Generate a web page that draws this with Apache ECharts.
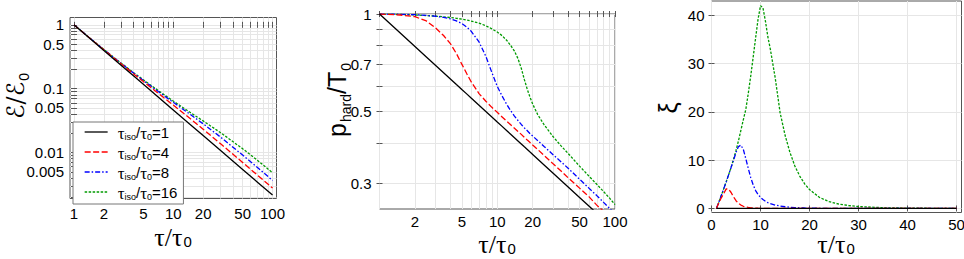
<!DOCTYPE html>
<html><head><meta charset="utf-8">
<script src="https://cdn.jsdelivr.net/npm/echarts@6/dist/echarts.min.js"></script>
<style>html,body{margin:0;padding:0;background:#fff}#c{width:964px;height:259px}</style>
</head><body><div id="c"></div>
<script>
// ---------- data ----------
const seriesNames = ['τiso/τ0=1', 'τiso/τ0=4', 'τiso/τ0=8', 'τiso/τ0=16'];

// left panel: energy density ε/ε0 vs τ/τ0 (log-log)
const tauEps = [1, 1.5, 2, 3, 4, 5, 6, 8, 10, 15, 20, 30, 50, 70, 100];
const eps1  = [1, 0.5824, 0.3969, 0.2311, 0.1575, 0.1169, 0.0917, 0.0625, 0.0464, 0.02703, 0.01842, 0.01073, 0.005429, 0.003466, 0.002154];
const eps4  = [1, 0.5878, 0.4061, 0.2431, 0.1699, 0.1291, 0.1036, 0.07275, 0.05541, 0.03341, 0.02319, 0.01369, 0.006980, 0.004467, 0.002776];
const eps8  = [1, 0.5891, 0.4089, 0.2477, 0.1747, 0.1343, 0.1088, 0.07833, 0.06118, 0.03907, 0.02820, 0.01740, 0.009114, 0.005873, 0.003658];
const eps16 = [1, 0.5891, 0.4108, 0.2500, 0.1780, 0.1374, 0.1120, 0.08145, 0.06407, 0.04187, 0.03128, 0.02044, 0.01147, 0.007618, 0.004824];
const epsTickValues = [1, 0.5, 0.1, 0.05, 0.01, 0.005];
const epsTickLabels = ['1', '0.5', '0.1', '0.05', '0.01', '0.005'];
const epsGridValues = [0.002,0.003,0.004,0.005,0.006,0.007,0.008,0.009,0.01,0.02,0.03,0.04,0.05,0.06,0.07,0.08,0.09,0.1,0.2,0.3,0.4,0.5,0.6,0.7,0.8,0.9,1];
const tauLogTickValues = [1, 2, 5, 10, 20, 50, 100];
const tauLogTickLabels = ['1', '2', '5', '10', '20', '50', '100'];
const tauLogGridValues = [1,2,3,4,5,6,7,8,9,10,20,30,40,50,60,70,80,90,100];

// middle panel: p_hard/T0 vs τ/τ0 (log-log)
const tauP = [1,1.5,2,2.5,3,3.5,4,4.5,5,5.5,6,7,8,9,10,11,12,13,14,15,16,17,18,19,20,22,25,30,35,40,50,60,70,80,90,100];
const p1  = [1,0.8736,0.7937,0.7368,0.6934,0.6586,0.6300,0.6057,0.5848,0.5667,0.5503,0.5228,0.5,0.4807,0.4642,0.4498,0.4368,0.4253,0.4149,0.4055,0.3969,0.3889,0.3816,0.3747,0.3684,0.3569,0.3420,0.3218,0.3057,0.2924,0.2714,0.2554,0.2426,0.2321,0.2231,0.2154];
const p4  = [1,0.993,0.981,0.952,0.905,0.858,0.81,0.755,0.70,0.655,0.618,0.568,0.538,0.515,0.497,0.481,0.467,0.455,0.444,0.434,0.425,0.416,0.408,0.401,0.394,0.382,0.366,0.344,0.327,0.312,0.29,0.273,0.257,0.246,0.237,0.229];
const p8  = [1,0.998,0.995,0.99,0.984,0.976,0.966,0.952,0.935,0.912,0.885,0.82,0.74,0.66,0.598,0.558,0.527,0.503,0.484,0.469,0.456,0.445,0.436,0.427,0.42,0.407,0.39,0.367,0.349,0.334,0.309,0.29,0.275,0.262,0.251,0.242];
const p16 = [1,0.997,0.993,0.989,0.985,0.98,0.975,0.97,0.964,0.958,0.951,0.937,0.92,0.9,0.88,0.857,0.83,0.8,0.768,0.728,0.68,0.627,0.585,0.553,0.527,0.49,0.455,0.417,0.391,0.371,0.339,0.316,0.298,0.283,0.27,0.258];
const pTickValues = [0.3, 0.5, 0.7, 1];
const pTickLabels = ['0.3', '0.5', '0.7', '1'];
const pGridValues = [0.3,0.4,0.5,0.6,0.7,0.8,0.9,1];
const tauMidTickValues = [2, 5, 10, 20, 50, 100];
const tauMidTickLabels = ['2', '5', '10', '20', '50', '100'];

// right panel: ξ vs τ/τ0 (linear)
const tauXi = [1,1.5,2,2.5,3,3.5,4,4.5,5,5.5,6,6.5,7,7.5,8,8.5,9,9.5,10,10.5,11,11.5,12,13,14,15,16,17,18,19,20,22,24,26,28,30,35,40,45,50];
const xi1  = [0,0,0,0,0,0,0,0,0,0,0,0,0,0,0,0,0,0,0,0,0,0,0,0,0,0,0,0,0,0,0,0,0,0,0,0,0,0,0,0];
const xi4  = [0,1.2,2.2,3.1,4.05,4.0,3.3,2.4,1.6,1.05,0.7,0.45,0.3,0.2,0.13,0.09,0.06,0.04,0.03,0.02,0.015,0.01,0,0,0,0,0,0,0,0,0,0,0,0,0,0,0,0,0,0];
const xi8  = [0,1.3,2.7,4.1,5.5,7.0,8.5,10.0,11.6,12.8,13.1,12.2,10.3,8.3,6.4,4.9,3.7,2.9,2.3,1.85,1.5,1.2,1.0,0.7,0.5,0.35,0.25,0.18,0.13,0.09,0.06,0.03,0.015,0.01,0,0,0,0,0,0];
const xi16 = [0,1.3,2.7,4.1,5.5,7.0,8.5,10.2,12.0,14.0,16.2,18.4,20.5,23.8,27.4,31.3,35.3,39.2,42.0,41.5,38.8,35.5,33.0,27.0,19.8,15.2,11.6,8.8,6.7,5.1,3.9,2.3,1.4,0.9,0.6,0.4,0.15,0.06,0.03,0.01];
const xiTickValues = [0, 10, 20, 30, 40];
const tauLinTickValues = [0, 10, 20, 30, 40, 50];

// ---------- styles ----------
const colors = ['#000000', '#ff0000', '#0000ff', '#009a00'];
const dashes = ['solid', [6, 2.5], [5, 2, 1.5, 2], [2.5, 1.5]];
const SANS = 'Liberation Sans, Arial, Helvetica, sans-serif';
const SERIF = 'Liberation Serif, Times New Roman, serif';
const GRIDC = '#e6e6e6';
const FRAMEC = '#555';

const L = Math.log10;
const logPairs = (xs, ys) => xs.map((x, i) => [L(x), L(ys[i])]);
const linPairs = (xs, ys) => xs.map((x, i) => [x, ys[i]]);
const fmtLog = (vals, labs) => v => {
  const x = Math.pow(10, v); let b = 0;
  vals.forEach((t, i) => { if (Math.abs(Math.log(t / x)) < Math.abs(Math.log(vals[b] / x))) b = i; });
  return labs[b];
};

function axes(kind, gi, o) {
  const tick = { show: true, inside: true, length: 3, customValues: o.ticks, lineStyle: { color: FRAMEC, width: 1 } };
  const main = {
    type: 'value', gridIndex: gi, min: o.min, max: o.max,
    position: kind === 'x' ? 'bottom' : 'left',
    axisLine: { show: false }, axisTick: tick,
    axisLabel: { customValues: o.labels, formatter: o.fmt, color: '#000', fontSize: 15, fontFamily: SANS, margin: o.margin, hideOverlap: false, showMinLabel: true, showMaxLabel: true },
    splitLine: { show: true, lineStyle: { color: GRIDC, width: 1 } }
  };
  const mirror = {
    type: 'value', gridIndex: gi, min: o.min, max: o.max,
    position: kind === 'x' ? 'top' : 'right',
    axisLine: { show: false }, axisTick: tick,
    axisLabel: { show: false }, splitLine: { show: false }
  };
  return [main, mirror];
}

const xAxes = [
  ...axes('x', 0, { min: -0.04, max: 2.04, ticks: tauLogGridValues.map(L), labels: tauLogTickValues.map(L), fmt: fmtLog(tauLogTickValues, tauLogTickLabels), margin: 7 }),
  ...axes('x', 1, { min: 0, max: 2, ticks: tauLogGridValues.map(L), labels: tauMidTickValues.map(L), fmt: fmtLog(tauMidTickValues, tauMidTickLabels), margin: 5 }),
  ...axes('x', 2, { min: 0, max: 51, ticks: tauLinTickValues, labels: tauLinTickValues, fmt: v => String(v), margin: 4 })
];
const yAxes = [
  ...axes('y', 0, { min: -2.72, max: 0.115, ticks: epsGridValues.map(L), labels: epsTickValues.map(L), fmt: fmtLog(epsTickValues, epsTickLabels), margin: 6 }),
  ...axes('y', 1, { min: L(0.25), max: 0, ticks: pGridValues.map(L), labels: pTickValues.map(L), fmt: fmtLog(pTickValues, pTickLabels), margin: 8 }),
  ...axes('y', 2, { min: -0.84, max: 42.95, ticks: xiTickValues, labels: xiTickValues, fmt: v => String(v), margin: 7 })
];

const panels = [
  { xi: 0, yi: 0, data: [eps1, eps4, eps8, eps16].map(d => logPairs(tauEps, d)) },
  { xi: 2, yi: 2, data: [p1, p4, p8, p16].map(d => logPairs(tauP, d)) },
  { xi: 4, yi: 4, data: [xi1, xi4, xi8, xi16].map(d => linPairs(tauXi, d)) }
];
const series = [];
panels.forEach(p => p.data.forEach((d, k) => series.push({
  type: 'line', name: seriesNames[k], xAxisIndex: p.xi, yAxisIndex: p.yi, data: d,
  showSymbol: false, symbol: 'none', smooth: false, clip: true, z: 10 - k,
  lineStyle: { color: colors[k], width: 1.3, type: dashes[k] }, itemStyle: { color: colors[k] }
})));

const richLegend = {
  t: { fontFamily: SERIF, fontSize: 17, lineHeight: 14, verticalAlign: 'top', color: '#000' },
  s: { fontFamily: SANS, fontSize: 9, lineHeight: 9, padding: [7, 0, 0, 0], verticalAlign: 'top', color: '#000' },
  n: { fontFamily: SANS, fontSize: 15, lineHeight: 14, verticalAlign: 'top', color: '#000' },
  g: { fontSize: 14, lineHeight: 14, width: 5, verticalAlign: 'top' }
};
const legendFmt = name => '{g|}{t|τ}{s|iso}{n|/}{t|τ}{s|0}{n|=' + name.split('=')[1] + '}';

function title(x, y, text, rich, rot) {
  return { type: 'text', x, y, rotation: rot || 0, silent: true,
    style: { text, rich, align: 'center', verticalAlign: 'middle', textAlign: 'center', textVerticalAlign: 'middle' } };
}
const tauTitle = '{t|τ/τ}{s|0}';
const richSub = (mainFont, mainSize, subSize, drop, lh) => ({
  t: { fontFamily: mainFont, fontSize: mainSize, lineHeight: lh || mainSize, verticalAlign: 'top', color: '#000' },
  s: { fontFamily: SANS, fontSize: subSize, lineHeight: subSize, padding: [drop, 0, 0, 1], verticalAlign: 'top', color: '#000' }
});

const option = {
  animation: false,
  backgroundColor: '#fff',
  grid: [
    { left: 70, top: 17.5, width: 206.5, height: 181, show: true, borderColor: FRAMEC, borderWidth: 1, backgroundColor: 'transparent', containLabel: false, outerBoundsMode: 'none' },
    { left: 379.5, top: 14, width: 235.5, height: 195, show: true, borderColor: FRAMEC, borderWidth: 1, backgroundColor: 'transparent', containLabel: false, outerBoundsMode: 'none' },
    { left: 711.5, top: 1, width: 250, height: 211.5, show: true, borderColor: FRAMEC, borderWidth: 1, backgroundColor: 'transparent', containLabel: false, outerBoundsMode: 'none' }
  ],
  xAxis: xAxes,
  yAxis: yAxes,
  legend: {
    data: seriesNames, left: 73, top: 122, orient: 'vertical',
    padding: [3, 6, 2, 11], itemGap: 3, itemWidth: 23, itemHeight: 14,
    backgroundColor: '#fff', borderColor: '#777', borderWidth: 1,
    selectedMode: false,
    itemStyle: { opacity: 0, borderWidth: 0 },
    lineStyle: { width: 1.3, type: 'inherit', color: 'inherit' },
    formatter: legendFmt, textStyle: { rich: richLegend, fontSize: 14 }
  },
  graphic: [
    title(173, 235, tauTitle, richSub(SERIF, 26, 15, 10, 22)),
    title(497, 242, tauTitle, richSub(SERIF, 26, 15, 10, 22)),
    title(836, 242, tauTitle, richSub(SERIF, 26, 15, 10, 22)),
    title(16, 96, '{t|ℰ/ℰ}{s|0}', richSub('DejaVu Serif, DejaVu Sans, serif', 24, 14, 13), Math.PI / 2),
    title(337, 100, '{t|p}{s|hard}{t|/T}{s|0}', richSub(SANS, 25, 14, 14), Math.PI / 2),
    title(668, 108, '{t|ξ}', richSub(SANS, 25, 14, 14), Math.PI / 2)
  ],
  series
};
const chart = echarts.init(document.getElementById('c'), null, { renderer: 'svg', width: 964, height: 259 });
chart.setOption(option);
</script>
</body></html>
